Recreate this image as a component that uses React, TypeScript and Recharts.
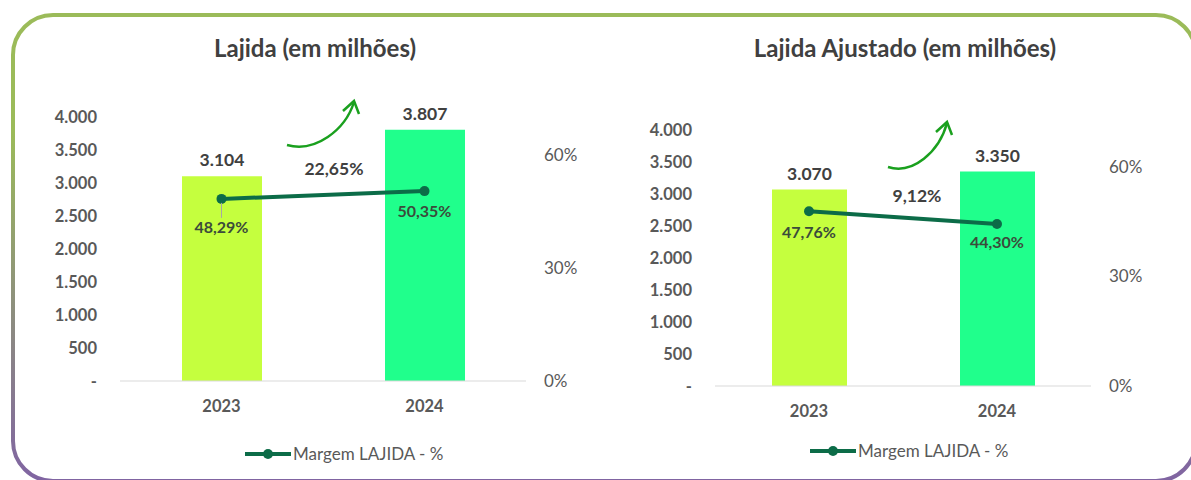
import { Bar, Cell, ComposedChart, LabelList, Legend, Line, ReferenceArea, XAxis, YAxis } from "recharts"

// values
const years = ["2023", "2024"]
const lajida = [3104, 3807]
const lajidaMargem = [0.4829, 0.5035]
const lajidaAjustado = [3070, 3350]
const ajustadoMargem = [0.4776, 0.443]
const valueTicks = [0, 500, 1000, 1500, 2000, 2500, 3000, 3500, 4000]
const pctTicks = [0, 0.3, 0.6]
const seriesName = "Margem LAJIDA - %"

const barColors = ["#C5FF3E", "#20FF8C"]
const lineColor = "#0C6C48"
const font = "Lato, 'Open Sans', sans-serif"

const fmtThousands = (v: number) => (v === 0 ? "-" : String(v).replace(/\B(?=(\d{3})+(?!\d))/g, "."))
const fmtPct2 = (v: number) => `${(v * 100).toFixed(2).replace(".", ",")}%`
const fmtPct0 = (v: number) => `${Math.round(v * 100)}%`

function GrowthMark({ viewBox, text, textAt, from, to }: any) {
  const { x, y } = viewBox
  const sx = x + from[0]
  const sy = y + from[1]
  const ex = x + to[0]
  const ey = y + to[1]
  const dx = ex - sx
  const dy = ey - sy
  const path = `M${sx},${sy} C${sx + 0.42 * dx},${sy + 8} ${sx + 0.87 * dx},${sy + 0.35 * dy} ${ex},${ey}`
  return (
    <g>
      <path d={path} fill="none" stroke="#1AA01E" strokeWidth={2.5} />
      <path d={`M${ex - 11},${ey + 9} L${ex},${ey - 1} L${ex + 5},${ey + 12}`} fill="none" stroke="#1AA01E" strokeWidth={2.5} />
      <text
        x={x + textAt[0]}
        y={y + textAt[1]}
        textAnchor="middle"
        dominantBaseline="central"
        fill="#404040"
        fontSize={17.5}
        fontWeight={700}
        fontFamily={font}
      >
        {text}
      </text>
    </g>
  )
}

function MarginLabel(props: any) {
  const { index, value, gaps } = props
  const vb = props.viewBox || {}
  const cx = props.x ?? vb.x
  const cy = props.y ?? vb.y
  const gap = gaps[index]
  return (
    <g>
      {gap > 24 && <line x1={cx} y1={cy + 4} x2={cx} y2={cy + gap - 9} stroke="#A6A6A6" strokeWidth={1} />}
      <text
        x={cx}
        y={cy + gap}
        textAnchor="middle"
        dominantBaseline="central"
        fill="#3B4B3B"
        fontSize={16}
        fontWeight={700}
        fontFamily={font}
      >
        {fmtPct2(value)}
      </text>
    </g>
  )
}

function LegendLine() {
  return (
    <div style={{ display: "flex", alignItems: "center", fontFamily: font, fontSize: 17, color: "#595959" }}>
      <svg width={46} height={12}>
        <line x1={0} y1={6} x2={46} y2={6} stroke={lineColor} strokeWidth={4} />
        <circle cx={23} cy={6} r={5} fill={lineColor} />
      </svg>
      <span style={{ marginLeft: 2 }}>{seriesName}</span>
    </div>
  )
}

function Panel({ title, values, margins, left, titleCenter, plotTop, plotBottom, plotRightGap, barSize, gaps, textAt, from, to, legendLeft, legendTop }: any) {
  const data = years.map((year, i) => ({ year, value: values[i], margem: margins[i] }))
  const growth = values[1] / values[0] - 1
  return (
    <div style={{ position: "absolute", left, top: 0, width: 596, height: 480 }}>
      <div
        style={{
          position: "absolute",
          top: 33,
          left: 0,
          width: titleCenter * 2,
          textAlign: "center",
          fontFamily: font,
          fontWeight: 700,
          fontSize: 24,
          lineHeight: "30px",
          color: "#404040",
        }}
      >
        {title}
      </div>
      <ComposedChart
        width={596}
        height={480}
        data={data}
        margin={{ top: plotTop, right: plotRightGap - 60, bottom: 480 - plotBottom - 40, left: 40 }}
      >
        <XAxis
          dataKey="year"
          height={40}
          axisLine={{ stroke: "#D9D9D9" }}
          tickLine={false}
          tickSize={0}
          tickMargin={19}
          tick={{ fill: "#595959", fontSize: 16.5, fontWeight: 700, fontFamily: font }}
        />
        <YAxis
          yAxisId="left"
          width={80}
          domain={[0, 4000]}
          ticks={valueTicks}
          interval={0}
          tickFormatter={fmtThousands}
          axisLine={false}
          tickLine={false}
          tickSize={0}
          tickMargin={23}
          tick={{ fill: "#595959", fontSize: 16.5, fontWeight: 700, fontFamily: font }}
        />
        <YAxis
          yAxisId="right"
          orientation="right"
          width={60}
          domain={[0, 0.7]}
          ticks={pctTicks}
          interval={0}
          tickFormatter={fmtPct0}
          axisLine={false}
          tickLine={false}
          tickSize={0}
          tickMargin={18}
          tick={{ fill: "#595959", fontSize: 17, fontFamily: font, textAnchor: "start" }}
        />
        <Legend
          layout="horizontal"
          verticalAlign="middle"
          align="center"
          wrapperStyle={{ left: legendLeft, top: legendTop, width: "auto" }}
          content={() => <LegendLine />}
        />
        <Bar yAxisId="left" dataKey="value" barSize={barSize} isAnimationActive={false}>
          {data.map((d, i) => (
            <Cell key={d.year} fill={barColors[i]} />
          ))}
          <LabelList
            dataKey="value"
            position="top"
            offset={10}
            formatter={(v: any) => fmtThousands(Number(v))}
            style={{ fill: "#404040", fontSize: 17.5, fontWeight: 700, fontFamily: font }}
          />
        </Bar>
        <Line
          yAxisId="right"
          dataKey="margem"
          name={seriesName}
          stroke={lineColor}
          strokeWidth={4}
          dot={{ r: 5, fill: lineColor, stroke: lineColor, strokeWidth: 0 }}
          activeDot={false}
          isAnimationActive={false}
        >
          <LabelList dataKey="margem" content={(p: any) => <MarginLabel {...p} gaps={gaps} />} />
        </Line>
        <ReferenceArea
          yAxisId="left"
          x1="2023"
          x2="2024"
          y1={0}
          y2={4000}
          fillOpacity={0}
          strokeOpacity={0}
          label={(p: any) => <GrowthMark viewBox={p.viewBox} text={fmtPct2(growth)} textAt={textAt} from={from} to={to} />}
        />
      </ComposedChart>
    </div>
  )
}

export default function App() {
  return (
    <div style={{ position: "fixed", left: 0, top: 0, width: 1191, height: 480, background: "#fff", overflow: "hidden" }}>
      <svg width={1191} height={480} style={{ position: "absolute", left: 0, top: 0 }}>
        <defs>
          <linearGradient id="frame" x1="0" y1="0" x2="0" y2="1">
            <stop offset="0%" stopColor="#9BBB59" />
            <stop offset="25%" stopColor="#9BBB59" />
            <stop offset="100%" stopColor="#8064A2" />
          </linearGradient>
        </defs>
        <rect x={13} y={15} width={1183} height={466} rx={40} fill="none" stroke="url(#frame)" strokeWidth={4} />
      </svg>
      <Panel
        title="Lajida (em milhões)"
        values={lajida}
        margins={lajidaMargem}
        left={0}
        titleCenter={315}
        plotTop={117}
        plotBottom={381}
        plotRightGap={70}
        barSize={80}
        gaps={[28, 19]}
        textAt={[214, 51]}
        from={[167, 28]}
        to={[234, -15]}
        legendLeft={245}
        legendTop={443}
      />
      <Panel
        title="Lajida Ajustado (em milhões)"
        values={lajidaAjustado}
        margins={ajustadoMargem}
        left={595}
        titleCenter={310}
        plotTop={130}
        plotBottom={386}
        plotRightGap={100}
        barSize={75}
        gaps={[20, 18]}
        textAt={[202, 65]}
        from={[173, 37]}
        to={[232, -7]}
        legendLeft={215}
        legendTop={440}
      />
    </div>
  )
}
